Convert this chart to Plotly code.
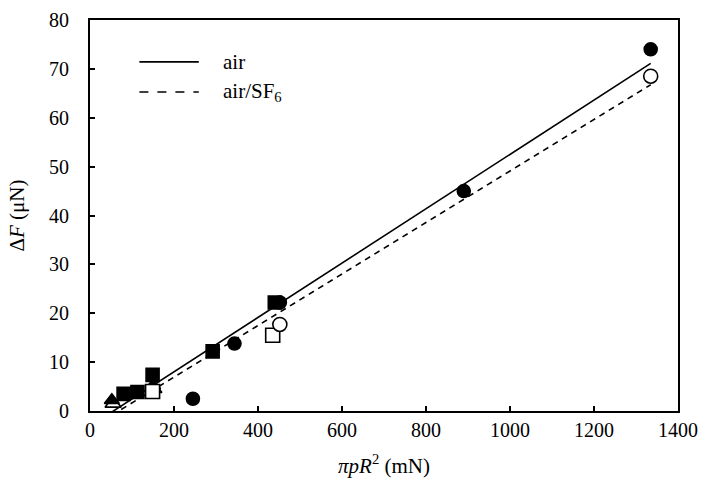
import plotly.graph_objects as go

# ---- data ----
air_circle_x = [245, 344, 452, 890, 1335]
air_circle_y = [2.5, 13.8, 22.2, 45.0, 74.0]
sf6_circle_x = [452, 1335]
sf6_circle_y = [17.7, 68.5]
air_square_x = [80, 113, 149, 292, 440]
air_square_y = [3.5, 3.9, 7.4, 12.2, 22.2]
sf6_square_x = [149, 435]
sf6_square_y = [4.0, 15.5]
air_tri_x = [52, 150]
air_tri_y = [2.2, 5.2]
sf6_tri_x = [55, 152]
sf6_tri_y = [1.5, 4.5]

# linear fits: slope, intercept, x-range
air_fit = (0.0556, -3.1)
sf6_fit = (0.0527, -3.6)
fit_x_range = [52, 1335]

x_ticks = [0, 200, 400, 600, 800, 1000, 1200, 1400]
y_ticks = [0, 10, 20, 30, 40, 50, 60, 70, 80]
y_tick_labels = [str(v) for v in y_ticks]

FONT = "Liberation Serif"

fig = go.Figure()

def line_from_fit(fit):
    s, b = fit
    return [s * x + b for x in fit_x_range]

fig.add_trace(go.Scatter(x=fit_x_range, y=line_from_fit(air_fit), mode="lines",
                         line=dict(color="black", width=1.6), name="air", showlegend=False))
fig.add_trace(go.Scatter(x=fit_x_range, y=line_from_fit(sf6_fit), mode="lines",
                         line=dict(color="black", width=1.6, dash="6px,5px"), name="air/SF6", showlegend=False))

def pts(x, y, sym, filled, size):
    fig.add_trace(go.Scatter(
        x=x, y=y, mode="markers", showlegend=False, cliponaxis=False,
        marker=dict(symbol=sym, size=size,
                    color="black" if filled else "white",
                    line=dict(color="black", width=1.6))))

pts(sf6_tri_x, sf6_tri_y, "triangle-up", False, 14)
pts(air_tri_x, air_tri_y, "triangle-up", True, 13)
pts(air_square_x, air_square_y, "square", True, 13)
pts(sf6_square_x, sf6_square_y, "square", False, 14)
pts(air_circle_x, air_circle_y, "circle", True, 13)
pts(sf6_circle_x, sf6_circle_y, "circle", False, 14)

# manual legend
legend_items = [("air", None), ("air/SF<sub><span style='color:black'>6</span></sub>", "dash")]
for i, (label, dash) in enumerate(legend_items):
    yp = 0.893 - i * 0.077
    fig.add_shape(type="line", xref="paper", yref="paper",
                  x0=0.084, x1=0.185, y0=yp, y1=yp,
                  line=dict(color="black", width=1.6, dash=dash))
    fig.add_annotation(xref="paper", yref="paper", x=0.222, y=yp, text=label,
                       showarrow=False, xanchor="left", yanchor="middle",
                       font=dict(family=FONT, size=21, color="black"))

# y tick labels, set a little further from the axis than plotly's default
for v, lab in zip(y_ticks, y_tick_labels):
    fig.add_annotation(xref="paper", yref="y", x=0, y=v, text=lab, showarrow=False,
                       xanchor="right", yanchor="middle", xshift=-19,
                       font=dict(family=FONT, size=20, color="black"))

axis_common = dict(
    showgrid=False, zeroline=False, showline=True, linecolor="black", linewidth=2,
    mirror=True, ticks="inside", ticklen=5, tickwidth=1.6, tickcolor="black",
    tickfont=dict(family=FONT, size=20, color="black"),
)

fig.update_xaxes(range=[0, 1400], tickvals=x_ticks, ticktext=[str(v) for v in x_ticks],
                 title=dict(text="<i>πpR</i><sup>2</sup> (mN)", font=dict(family=FONT, size=21, color="black"),
                            standoff=18),
                 **axis_common)
fig.update_yaxes(range=[0, 80], tickvals=y_ticks, showticklabels=False,
                 title=dict(text="Δ<i>F</i> (μN)", font=dict(family=FONT, size=21, color="black"),
                            standoff=58),
                 **axis_common)

fig.update_layout(
    width=710, height=493,
    margin=dict(l=90, r=26, t=20, b=82),
    paper_bgcolor="white", plot_bgcolor="white",
    font=dict(family=FONT, color="black"),
)

fig.write_html("out.html")
